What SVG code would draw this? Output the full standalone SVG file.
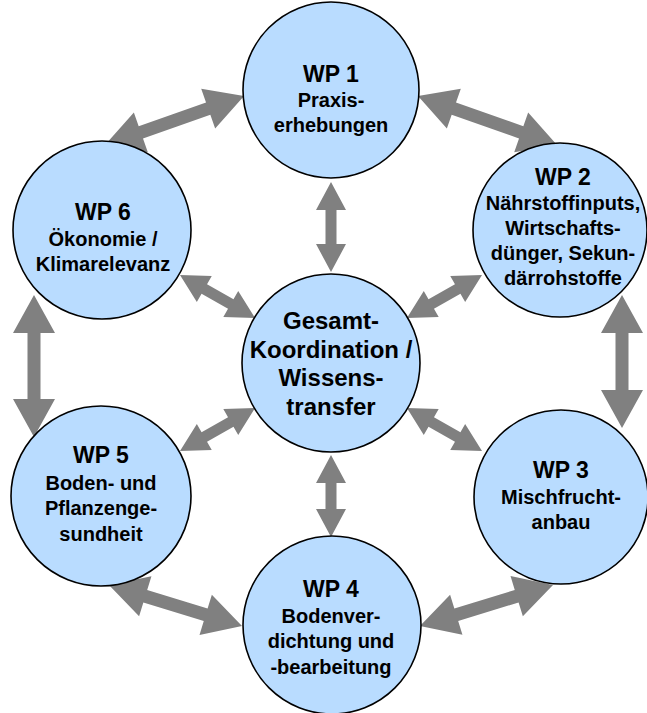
<svg xmlns="http://www.w3.org/2000/svg" width="647" height="713" viewBox="0 0 647 713">
<style>
.node circle{fill:#b9dcff;stroke:#000;stroke-width:1.6}
text{font-family:"Liberation Sans",Arial,sans-serif;font-weight:bold;fill:#000;text-anchor:middle}
.t{font-size:23px}
.b{font-size:20px}
.c{font-size:24px}
.arr{fill:#808080;stroke:none}
</style>
<rect width="647" height="713" fill="#fff"/>
<g id="connectors" class="arr">
  <polygon transform="translate(105,145) rotate(-19.4)" points="0,0 38,-21 38,-6.5 109.4,-6.5 109.4,-21 147.4,0 109.4,21 109.4,6.5 38,6.5 38,21"/>
  <polygon transform="translate(418,96) rotate(19.4)" points="0,0 38,-21 38,-6.5 109.4,-6.5 109.4,-21 147.4,0 109.4,21 109.4,6.5 38,6.5 38,21"/>
  <polygon transform="translate(622,295) rotate(90)" points="0,0 38,-21 38,-6.5 95,-6.5 95,-21 133,0 95,21 95,6.5 38,6.5 38,21"/>
  <polygon transform="translate(553,585) rotate(162.9)" points="0,0 38,-21 38,-6.5 101.2,-6.5 101.2,-21 139.2,0 101.2,21 101.2,6.5 38,6.5 38,21"/>
  <polygon transform="translate(242,626) rotate(197.1)" points="0,0 38,-21 38,-6.5 101.2,-6.5 101.2,-21 139.2,0 101.2,21 101.2,6.5 38,6.5 38,21"/>
  <polygon transform="translate(34,437) rotate(-90)" points="0,0 38,-21 38,-6.5 104,-6.5 104,-21 142,0 104,21 104,6.5 38,6.5 38,21"/>
  <polygon transform="translate(331,182) rotate(90)" points="0,0 28,-15 28,-5.5 62,-5.5 62,-15 90,0 62,15 62,5.5 28,5.5 28,15"/>
  <polygon transform="translate(331,455) rotate(90)" points="0,0 28,-15 28,-5.5 54,-5.5 54,-15 82,0 54,15 54,5.5 28,5.5 28,15"/>
  <polygon transform="translate(180,275) rotate(29.8)" points="0,0 28,-15 28,-5.5 58.5,-5.5 58.5,-15 86.5,0 58.5,15 58.5,5.5 28,5.5 28,15"/>
  <polygon transform="translate(180,451) rotate(-29.8)" points="0,0 28,-15 28,-5.5 58.5,-5.5 58.5,-15 86.5,0 58.5,15 58.5,5.5 28,5.5 28,15"/>
  <polygon transform="translate(482,275) rotate(150.2)" points="0,0 28,-15 28,-5.5 58.5,-5.5 58.5,-15 86.5,0 58.5,15 58.5,5.5 28,5.5 28,15"/>
  <polygon transform="translate(482,451) rotate(209.8)" points="0,0 28,-15 28,-5.5 58.5,-5.5 58.5,-15 86.5,0 58.5,15 58.5,5.5 28,5.5 28,15"/>
</g>
<g id="wp1" class="node">
  <circle cx="331" cy="90" r="88"/>
  <text class="t" x="331" y="82">WP 1</text>
  <text class="b" x="331" y="107">Praxis-</text>
  <text class="b" x="331" y="132">erhebungen</text>
</g>
<g id="wp2" class="node">
  <circle cx="560" cy="230" r="87"/>
  <text class="t" x="563" y="185">WP 2</text>
  <text class="b" x="563" y="210">Nährstoffinputs,</text>
  <text class="b" x="563" y="235">Wirtschafts-</text>
  <text class="b" x="563" y="260">dünger, Sekun-</text>
  <text class="b" x="563" y="285">därrohstoffe</text>
</g>
<g id="wp3" class="node">
  <circle cx="561" cy="497" r="87"/>
  <text class="t" x="561" y="478">WP 3</text>
  <text class="b" x="561" y="504">Mischfrucht-</text>
  <text class="b" x="561" y="529">anbau</text>
</g>
<g id="wp4" class="node">
  <circle cx="332" cy="625" r="89"/>
  <text class="t" x="331" y="597">WP 4</text>
  <text class="b" x="331" y="623">Bodenver-</text>
  <text class="b" x="331" y="648">dichtung und</text>
  <text class="b" x="331" y="674">-bearbeitung</text>
</g>
<g id="wp5" class="node">
  <circle cx="101" cy="496" r="90"/>
  <text class="t" x="101" y="463">WP 5</text>
  <text class="b" x="101" y="490">Boden- und</text>
  <text class="b" x="101" y="515">Pflanzenge-</text>
  <text class="b" x="101" y="541">sundheit</text>
</g>
<g id="wp6" class="node">
  <circle cx="102" cy="230" r="89"/>
  <text class="t" x="103" y="220">WP 6</text>
  <text class="b" x="103" y="246">Ökonomie /</text>
  <text class="b" x="103" y="271">Klimarelevanz</text>
</g>
<g id="center" class="node">
  <circle cx="331" cy="363" r="89"/>
  <text class="c" x="331" y="329">Gesamt-</text>
  <text class="c" x="331" y="358">Koordination /</text>
  <text class="c" x="331" y="386">Wissens-</text>
  <text class="c" x="331" y="415">transfer</text>
</g>
</svg>
